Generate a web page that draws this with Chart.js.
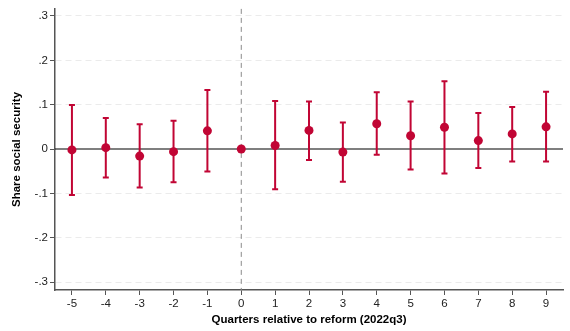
<!DOCTYPE html>
<html>
<head>
<meta charset="utf-8">
<script src="https://cdn.jsdelivr.net/npm/chart.js@4/dist/chart.umd.min.js"></script>
<style>
html,body{margin:0;padding:0;background:#fff;}
#wrap{width:570px;height:331px;position:relative;}
</style>
</head>
<body>
<div id="wrap"><canvas id="c" width="570" height="331"></canvas></div>
<script>
const quarters = [-5, -4, -3, -2, -1, 0, 1, 2, 3, 4, 5, 6, 7, 8, 9];
const estimates = [-0.002, 0.003, -0.016, -0.006, 0.041, 0, 0.008, 0.042, -0.007, 0.057, 0.030, 0.049, 0.019, 0.034, 0.050];
const ciLow = [-0.104, -0.064, -0.087, -0.075, -0.051, null, -0.091, -0.025, -0.074, -0.013, -0.046, -0.055, -0.043, -0.028, -0.028];
const ciHigh = [0.099, 0.070, 0.056, 0.064, 0.133, null, 0.108, 0.107, 0.060, 0.128, 0.107, 0.153, 0.081, 0.095, 0.129];
const yTicks = [-0.3, -0.2, -0.1, 0, 0.1, 0.2, 0.3];
const xTicks = [-5, -4, -3, -2, -1, 0, 1, 2, 3, 4, 5, 6, 7, 8, 9];

const RED = '#c10534';
const FONT = "'Liberation Sans', Arial, Helvetica, sans-serif";

function fmtY(v) {
  if (Math.abs(v) < 1e-9) return '0';
  const s = (Math.round(v * 10) / 10).toString();
  return s.replace('0.', '.');
}

const overlay = {
  id: 'overlay',
  beforeDatasetsDraw(chart) {
    const {ctx, chartArea, scales} = chart;
    const xs = scales.x, ys = scales.y;
    ctx.save();
    // zero line
    const y0 = ys.getPixelForValue(0);
    ctx.strokeStyle = '#000';
    ctx.lineWidth = 1.2;
    ctx.beginPath();
    ctx.moveTo(chartArea.left, y0);
    ctx.lineTo(chartArea.right, y0);
    ctx.stroke();
    // vertical dashed line at 0
    const x0 = xs.getPixelForValue(0);
    ctx.strokeStyle = '#8a8a8a';
    ctx.lineWidth = 1;
    ctx.setLineDash([5, 4]);
    ctx.beginPath();
    ctx.moveTo(x0, chartArea.top);
    ctx.lineTo(x0, chartArea.bottom);
    ctx.stroke();
    ctx.setLineDash([]);
    // error bars
    ctx.strokeStyle = RED;
    ctx.lineWidth = 2;
    for (let i = 0; i < quarters.length; i++) {
      if (ciLow[i] === null || ciHigh[i] === null) continue;
      const x = xs.getPixelForValue(quarters[i]);
      const yl = ys.getPixelForValue(ciLow[i]);
      const yh = ys.getPixelForValue(ciHigh[i]);
      ctx.beginPath();
      ctx.moveTo(x, yl);
      ctx.lineTo(x, yh);
      ctx.moveTo(x - 3, yl);
      ctx.lineTo(x + 3, yl);
      ctx.moveTo(x - 3, yh);
      ctx.lineTo(x + 3, yh);
      ctx.stroke();
    }
    ctx.restore();
  }
};

new Chart(document.getElementById('c'), {
  type: 'scatter',
  data: {
    datasets: [{
      data: quarters.map((q, i) => ({x: q, y: estimates[i]})),
      backgroundColor: RED,
      borderColor: RED,
      pointRadius: 4.5,
      pointHoverRadius: 4.5,
      borderWidth: 0
    }]
  },
  options: {
    responsive: false,
    animation: false,
    devicePixelRatio: 1,
    layout: {padding: {top: 7, right: 7, left: 0, bottom: 0}},
    plugins: {legend: {display: false}, tooltip: {enabled: false}},
    scales: {
      x: {
        type: 'linear',
        min: -5.5,
        max: 9.5,
        afterBuildTicks(s) { s.ticks = xTicks.map(v => ({value: v})); },
        afterFit(s) { s.height = 41; },
        grid: {drawOnChartArea: false, drawTicks: true, tickLength: 5, tickColor: '#555', lineWidth: 1},
        border: {display: true, color: '#555', width: 1.5},
        ticks: {
          color: '#222',
          font: {family: FONT, size: 11.5},
          padding: 2,
          maxRotation: 0,
          callback: v => String(v)
        },
        title: {
          display: true,
          text: 'Quarters relative to reform (2022q3)',
          color: '#000',
          font: {family: FONT, size: 11.5, weight: 'bold'},
          padding: {top: 2, bottom: 4}
        }
      },
      y: {
        type: 'linear',
        min: -0.318,
        max: 0.316,
        afterBuildTicks(s) { s.ticks = yTicks.map(v => ({value: v})); },
        afterFit(s) { s.width = 55; },
        grid: {
          drawOnChartArea: true,
          drawTicks: true,
          tickLength: 5,
          color: ctx => (ctx.tick && Math.abs(ctx.tick.value) < 1e-9) ? 'rgba(0,0,0,0)' : '#ebebeb',
          tickColor: '#555',
          lineWidth: 1
        },
        border: {display: true, color: '#555', width: 1.5, dash: [6, 4]},
        ticks: {
          color: '#222',
          font: {family: FONT, size: 11.5},
          padding: 2,
          callback: v => fmtY(v)
        },
        title: {
          display: true,
          text: 'Share social security',
          color: '#000',
          font: {family: FONT, size: 11.5, weight: 'bold'},
          padding: {top: 10, bottom: 0}
        }
      }
    }
  },
  plugins: [overlay]
});
</script>
</body>
</html>
